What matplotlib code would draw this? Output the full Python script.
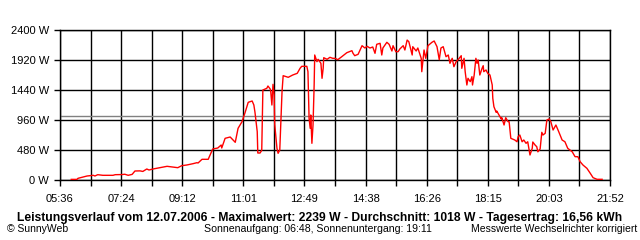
import matplotlib
matplotlib.use("Agg")
import matplotlib.pyplot as plt
import numpy as np

plt.rcParams['font.family'] = ['Liberation Sans', 'DejaVu Sans']

times = ["05:56","06:06","06:08","06:15","06:24","06:35","06:38","06:43","06:52","07:10",
         "07:14","07:26","07:31","07:37","07:44","07:49","07:58","08:03","08:10","08:14",
         "08:21","08:33","08:46","08:56","09:05","09:12","09:21","09:32","09:39","09:41",
         "09:48","09:59","10:07","10:16","10:22","10:23","10:29","10:38","10:47","10:52",
         "10:59","11:04","11:10","11:17","11:20","11:22","11:26","11:27","11:31","11:34",
         "11:36","11:43","11:45","11:49","11:50","11:52","11:54","11:56","11:57","12:01",
         "12:03","12:06","12:10","12:12","12:21","12:29","12:37","12:42","12:45","12:54",
         "12:56","12:58","13:00","13:01","13:03","13:05","13:07","13:08","13:12","13:14",
         "13:19","13:21","13:23","13:24","13:30","13:35","13:40","13:44","13:49","13:56",
         "14:05","14:14","14:16","14:19","14:25","14:32","14:37","14:41","14:46","14:51",
         "14:55","14:58","15:04","15:07","15:09","15:16","15:20","15:25","15:27","15:32",
         "15:36","15:39","15:45","15:48","15:52","15:55","16:01","16:02","16:08","16:11",
         "16:17","16:18","16:22","16:25","16:29","16:36","16:40","16:45","16:49","16:52",
         "16:56","17:01","17:05","17:08","17:12","17:15","17:19","17:22","17:28","17:29",
         "17:33","17:35","17:38","17:40","17:44","17:47","17:48","17:51","17:54","17:56",
         "17:58","18:01","18:05","18:07","18:08","18:12","18:15","18:19","18:23","18:24",
         "18:26","18:30","18:31","18:35","18:39","18:40","18:44","18:47","18:51","18:53",
         "18:56","19:03","19:07","19:09","19:12","19:16","19:19","19:23","19:26","19:30",
         "19:34","19:35","19:39","19:42","19:44","19:48","19:51","19:53","19:57","20:00",
         "20:04","20:07","20:11","20:16","20:21","20:27","20:32","20:37","20:45","20:50",
         "20:55","20:59","21:04","21:11","21:17","21:22","21:29","21:38"]
watts = [10,10,27,43,64,75,64,85,75,75,
         85,87,92,75,90,144,146,137,176,160,
         176,197,219,208,197,229,240,261,277,272,
         331,331,496,512,560,512,667,688,603,827,
         933,1067,1243,1264,1200,1083,773,432,432,475,
         1440,1467,1504,1456,1413,1200,1531,1360,891,507,
         427,480,1413,1669,1643,1680,1707,1787,1819,1819,
         1733,987,827,1040,587,880,1520,2000,1893,1931,
         1867,1627,1787,1957,1931,1963,1947,1947,1925,1973,
         2037,2069,2027,1989,2011,2149,2112,2139,2112,2128,
         2027,2171,2187,2000,2112,2203,2171,2064,2149,2053,
         2053,2096,2149,2080,2239,2213,2000,2133,2064,2112,
         1947,1733,2080,1947,2149,2203,2224,2133,1925,2112,
         2133,1973,2000,1867,1947,1813,1893,1920,1989,1787,
         1947,1733,1520,1627,1573,1653,1520,1680,1947,1867,
         1920,1680,1787,1829,1733,1760,1707,1680,1520,1307,
         1173,1083,1104,1040,976,997,880,997,933,933,
         667,640,612,693,720,612,640,587,612,400,
         507,608,560,533,451,496,763,720,747,960,
         977,933,800,880,773,640,612,507,451,373,
         373,293,240,187,107,37,11,11]

average = 1018
tick_labels = ["05:36","07:24","09:12","11:01","12:49","14:38","16:26","18:15","20:03","21:52"]
y_ticks = [0, 480, 960, 1440, 1920, 2400]

title = "Leistungsverlauf vom 12.07.2006 - Maximalwert: 2239 W - Durchschnitt: 1018 W - Tagesertrag: 16,56 kWh"
left_note = "\u00a9 SunnyWeb"
mid_note = "Sonnenaufgang: 06:48, Sonnenuntergang: 19:11"
right_note = "Messwerte Wechselrichter korrigiert"

def to_min(s):
    h, m = s.split(":")
    return int(h) * 60 + int(m)

x = np.array([to_min(t) for t in times])
y = np.array(watts)

x0 = to_min(tick_labels[0]); x1 = to_min(tick_labels[-1])

fig = plt.figure(figsize=(6.4, 2.4), dpi=100)
ax = fig.add_axes([60/640, 60/240, 550/640, 150/240])
ax.set_xlim(x0, x1)
ax.set_ylim(0, 2400)

grid_x = np.linspace(x0, x1, 19)
for gx in grid_x:
    ax.axvline(gx, color='black', lw=1.0, zorder=1)
for gy in y_ticks:
    ax.axhline(gy, color='black', lw=1.0, zorder=1)
ax.axhline(average, color='#808080', lw=1.0, zorder=2)
ax.plot(x, y, color='#ff0000', lw=1.0, zorder=3)

ax.set_xticks(grid_x)
ax.set_xticklabels([tick_labels[i // 2] if i % 2 == 0 else "" for i in range(19)])
ax.set_yticks(y_ticks)
ax.set_yticklabels([f"{v} W" for v in y_ticks])
ax.tick_params(axis='both', direction='out', length=4, width=1.0, color='black',
               labelsize=8, labelcolor='black')
ax.tick_params(axis='x', pad=6)
ax.tick_params(axis='y', pad=4)
for sp in ax.spines.values():
    sp.set_color('black'); sp.set_linewidth(1.0)

fig.text(0.5, 19/240, title, ha='center', va='baseline', fontsize=8.7, fontweight='bold')
fig.text(7/640, 8/240, left_note, ha='left', va='baseline', fontsize=7.5)
fig.text(318/640, 8/240, mid_note, ha='center', va='baseline', fontsize=7.6)
fig.text(637/640, 8/240, right_note, ha='right', va='baseline', fontsize=7.5)

fig.savefig("out.png", dpi=100, facecolor='white')
